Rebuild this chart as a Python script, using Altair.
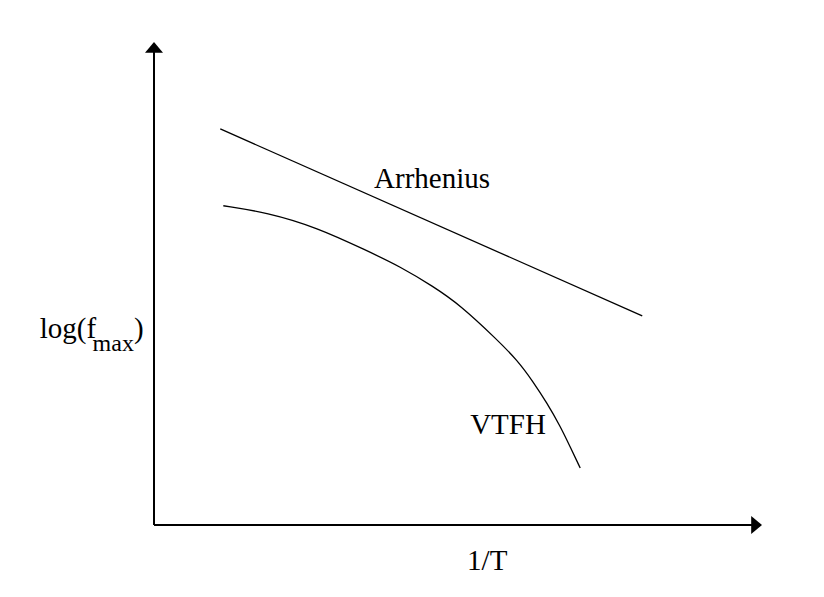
import altair as alt
import pandas as pd

# Schematic curves (arbitrary units: x = 1/T, y = log(f_max))
arr_x = [1.09, 8.03]
arr_y = [8.20, 4.33]

vtfh_x = [1.14, 1.86, 2.68, 3.50, 4.05, 4.59, 5.03, 5.64, 5.97, 6.24, 6.46, 6.68, 6.84, 7.01]
vtfh_y = [6.61, 6.47, 6.16, 5.68, 5.35, 4.94, 4.56, 3.84, 3.42, 2.96, 2.53, 2.05, 1.63, 1.18]

# Annotation texts (in data units)
lab_text = ["Arrhenius", "VTFH", "1/T", "log(f", ")"]
lab_x = [3.62, 5.20, 5.15, -1.88, -0.33]
lab_y = [6.97, 1.89, -0.94, 3.87, 3.87]

sub_text = ["max"]
sub_x = [-1.01]
sub_y = [3.60]

X = alt.Scale(domain=[0, 10], nice=False, zero=False)
Y = alt.Scale(domain=[0, 10], nice=False, zero=False)

df_arr = pd.DataFrame({"x": arr_x, "y": arr_y})
df_vtfh = pd.DataFrame({"x": vtfh_x, "y": vtfh_y})
df_lab = pd.DataFrame({"t": lab_text, "x": lab_x, "y": lab_y})
df_sub = pd.DataFrame({"t": sub_text, "x": sub_x, "y": sub_y})

axes_df = pd.DataFrame({"x": [0, 0], "y": [0, 0], "x2": [0, 9.85], "y2": [9.85, 0]})

base_x = alt.X("x:Q", scale=X, axis=None)
base_y = alt.Y("y:Q", scale=Y, axis=None)

axes = alt.Chart(axes_df).mark_rule(color="black", strokeWidth=2).encode(
    x=base_x, y=base_y, x2="x2:Q", y2="y2:Q"
)

up_arrow = alt.Chart(pd.DataFrame({"x": [0], "y": [10]})).mark_point(
    shape="M0,0 L-1,1.2 L1,1.2 Z", size=324, filled=True, color="black", opacity=1, strokeWidth=0
).encode(x=base_x, y=base_y)

right_arrow = alt.Chart(pd.DataFrame({"x": [10], "y": [0]})).mark_point(
    shape="M0,0 L-1.2,-1 L-1.2,1 Z", size=324, filled=True, color="black", opacity=1, strokeWidth=0
).encode(x=base_x, y=base_y)

arr_line = alt.Chart(df_arr).mark_line(color="black", strokeWidth=1.3).encode(x=base_x, y=base_y)
vtfh_line = alt.Chart(df_vtfh).mark_line(color="black", strokeWidth=1.3, interpolate="basis").encode(
    x=base_x, y=base_y
)

labels = alt.Chart(df_lab).mark_text(
    font="Liberation Serif", fontSize=29, align="left", baseline="alphabetic", color="black"
).encode(x=base_x, y=base_y, text="t:N")

sub = alt.Chart(df_sub).mark_text(
    font="Liberation Serif", fontSize=24, align="left", baseline="alphabetic", color="black"
).encode(x=base_x, y=base_y, text="t:N")

chart = alt.layer(axes, up_arrow, right_arrow, arr_line, vtfh_line, labels, sub).properties(
    width=608,
    height=483,
    autosize=alt.AutoSizeParams(type="none"),
    padding={"left": 146, "top": 34, "right": 54, "bottom": 64},
    background="white",
).configure_view(strokeWidth=0, stroke="transparent")

chart.save("out.html", embed_options={"renderer": "svg", "actions": False})
